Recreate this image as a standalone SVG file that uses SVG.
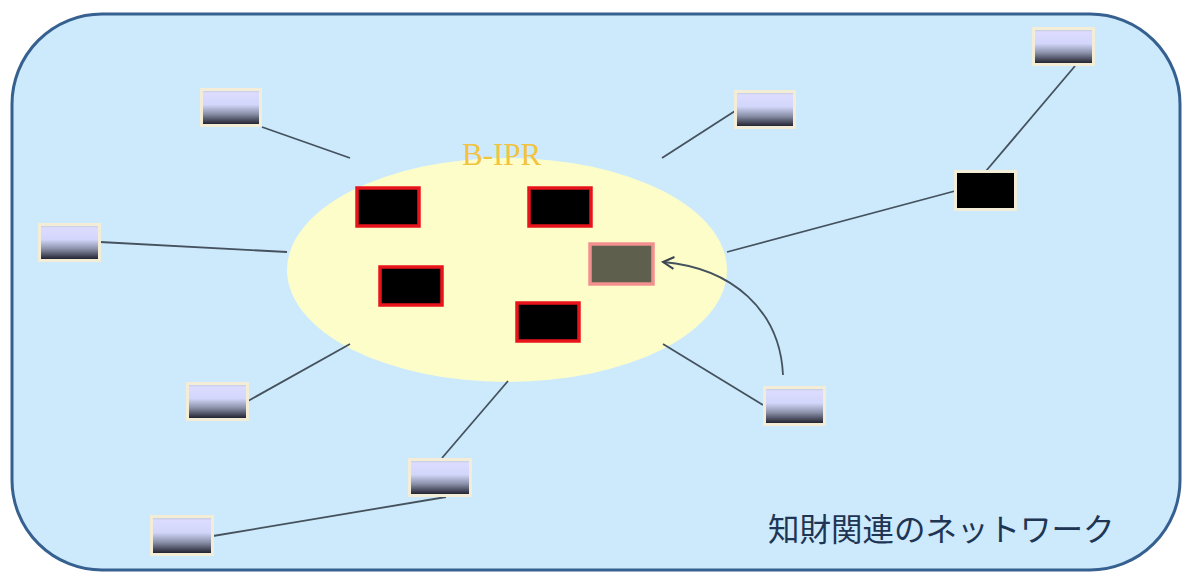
<svg xmlns="http://www.w3.org/2000/svg" width="1184" height="573" viewBox="0 0 1184 573">
<defs>
<linearGradient id="g" x1="0" y1="0" x2="0" y2="1">
<stop offset="0" stop-color="#b8c4c8"/>
<stop offset="0.1" stop-color="#dcdcff"/>
<stop offset="0.42" stop-color="#d2d6fa"/>
<stop offset="0.68" stop-color="#8a90a8"/>
<stop offset="1" stop-color="#141420"/>
</linearGradient>
<marker id="arr" markerWidth="14" markerHeight="14" refX="12" refY="7" orient="auto" markerUnits="userSpaceOnUse">
<path d="M1,1 L12,7 L1,13" fill="none" stroke="#3a4450" stroke-width="2"/>
</marker>
<style>
.n{fill:url(#g);stroke:#f3ecd6;stroke-width:3}
.r{fill:#000;stroke:#e8141c;stroke-width:3.5}
.c{stroke:#45525e;stroke-width:1.8;fill:none}
</style>
</defs>
<rect x="12" y="14" width="1168" height="556" rx="90" ry="90" fill="#cdeafd" stroke="#36608f" stroke-width="3"/>
<ellipse cx="507" cy="270" rx="220" ry="112" fill="#fdfdc9"/>
<text x="462" y="165" font-family="Liberation Serif, serif" font-size="31" fill="#f2c33c">B-IPR</text>
<g id="connectors">
<line class="c" x1="262" y1="127" x2="350" y2="158"/>
<line class="c" x1="735" y1="111" x2="662" y2="158"/>
<line class="c" x1="1075" y1="66" x2="986" y2="171"/>
<line class="c" x1="955" y1="191" x2="727" y2="252"/>
<line class="c" x1="100" y1="242" x2="287" y2="252"/>
<line class="c" x1="248" y1="401" x2="350" y2="344"/>
<line class="c" x1="442" y1="458" x2="508" y2="381"/>
<line class="c" x1="213" y1="536" x2="446" y2="497"/>
<line class="c" x1="763" y1="405" x2="663" y2="344"/>
<path class="c" d="M783,375 C780,310 732,268 663,262" marker-end="url(#arr)"/>
</g>
<g id="n1"><rect class="n" x="201.5" y="89.5" width="59" height="36"/></g>
<g id="n2"><rect class="n" x="735.5" y="91.5" width="59" height="36"/></g>
<g id="n3"><rect class="n" x="1033.5" y="28.5" width="60" height="36"/></g>
<g id="n4"><rect class="n" x="39.5" y="224.5" width="60" height="36"/></g>
<g id="n5"><rect class="n" x="187.5" y="383.5" width="60" height="36"/></g>
<g id="n6"><rect class="n" x="409.5" y="459.5" width="61" height="36"/></g>
<g id="n7"><rect class="n" x="151.5" y="516.5" width="61" height="38"/></g>
<g id="n8"><rect class="n" x="764.5" y="387.5" width="60" height="37"/></g>
<g id="n9"><rect x="955.5" y="171.5" width="60" height="38" fill="#000" stroke="#f3ecd6" stroke-width="3"/></g>
<g id="ra"><rect class="r" x="357" y="188" width="62" height="38"/></g>
<g id="rb"><rect class="r" x="529" y="188" width="62" height="38"/></g>
<g id="rc"><rect class="r" x="380" y="267" width="62" height="38"/></g>
<g id="rd"><rect class="r" x="517" y="303" width="62" height="38"/></g>
<g id="re"><rect x="590" y="244" width="63" height="40" fill="#5f5f4e" stroke="#f29090" stroke-width="3.5"/></g>
<text x="768" y="541" font-family="Noto Sans CJK JP, sans-serif" font-size="31.5" fill="#1f3554">知財関連のネットワーク</text>
</svg>
